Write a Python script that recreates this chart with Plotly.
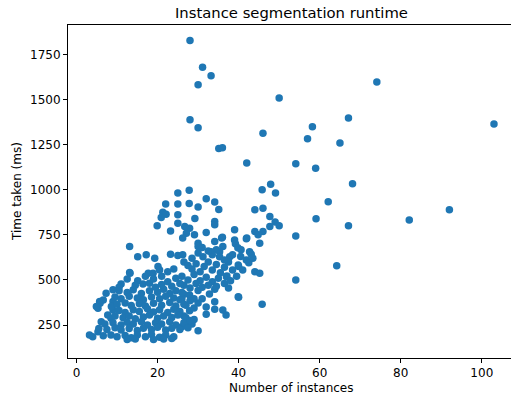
import plotly.graph_objects as go

# Outliers / sparse points (instances, ms)
sparse_x = [28.0, 31.1, 33.2, 30.0, 50.0, 28.0, 30.0, 67.1, 58.2, 57.0, 65.0, 46.0, 35.1, 36.0,
            42.0, 54.1, 59.0, 74.1, 103.0, 68.1, 47.9, 49.1, 62.1, 92.0, 82.1, 59.1, 67.1, 54.1,
            64.2, 54.1, 45.8, 40.0]
sparse_y = [1828, 1679, 1633, 1583, 1509, 1389, 1344, 1398, 1350, 1283, 1259, 1313, 1229, 1233,
            1148, 1144, 1120, 1598, 1365, 1033, 1031, 982, 933, 889, 833, 839, 800, 744,
            579, 500, 365, 404]

# Upper cluster
upper_x = [25.0, 25.0, 22.0, 21.3, 22.1, 20.9, 25.0, 25.0, 19.9, 23.2, 13.1, 15.1, 17.2, 19.3,
           23.2, 25.0, 27.8, 27.8, 30.0, 32.0, 34.1, 35.1, 29.2, 34.1, 34.1, 27.9, 27.1, 29.1,
           32.0, 30.0, 30.0, 26.2, 26.2, 36.0, 39.0, 39.0, 39.2, 39.8, 40.6, 41.9, 42.7, 43.1,
           44.0, 46.0, 45.8, 47.7, 49.0, 50.0, 47.7, 46.0, 44.0, 44.8, 45.2, 36.1, 35.3, 34.5,
           33.2, 33.5, 35.3, 31.2, 37.8, 26.7, 34.1, 35.8, 42.0]
upper_y = [982, 921, 921, 876, 865, 846, 861, 815, 800, 772, 685, 629, 639, 620,
           643, 635, 998, 924, 904, 950, 932, 891, 841, 824, 806, 787, 759, 750,
           763, 704, 685, 732, 639, 737, 778, 722, 700, 679, 667, 728, 657, 643,
           889, 898, 1000, 852, 821, 800, 796, 768, 768, 750, 704, 685, 657, 667,
           657, 639, 629, 629, 629, 796, 713, 732, 732]

# Middle band
mid_x = [44.0, 45.2, 40.0, 37.1, 41.9, 39.9, 37.0, 39.9, 36.9, 36.1, 34.1, 34.1, 32.0, 30.0,
         27.9, 30.0, 27.9, 30.0, 32.8, 34.1,
         26.5, 27.5, 28.5, 29.5, 30.5, 31.5, 32.5, 33.5, 34.5, 35.5, 36.5, 37.5, 38.5,
         26.0, 27.5, 29.0, 30.5, 32.0, 33.5, 35.0, 36.5, 38.0, 26.5, 28.0, 29.5, 31.0,
         32.5, 34.5, 37.5, 39.5, 41.0, 42.5, 43.5, 40.5, 38.5, 36.5, 28.5, 30.0, 32.5, 31.0,
         26.5, 26.0, 27.0, 26.5, 27.5, 29.0, 26.0, 28.5, 31.0, 32.0, 29.0]
mid_y = [546, 537, 574, 522, 611, 583, 518, 407, 306, 333, 337, 379, 309, 218,
         329, 372, 417, 441, 422, 448,
         600, 580, 560, 590, 545, 575, 600, 555, 585, 540, 570, 600, 555,
         520, 500, 530, 495, 515, 490, 510, 480, 495, 470, 455, 480, 460,
         470, 465, 455, 520, 555, 595, 620, 630, 640, 610, 620, 650, 660, 680,
         420, 395, 360, 300, 270, 280, 240, 255, 395, 350, 395]

# Dense lower-left cluster
low_x = [13.1, 11.0, 15.1, 16.4, 18.0, 7.3, 5.7, 5.3, 9.0, 9.0, 7.7, 8.5, 6.1, 3.2, 4.0,
         5.3, 6.6, 17.7, 18.9, 20.1, 13.2, 6.6, 5.8, 4.9, 8.6,
         10.5, 12.5, 14.0, 16.0, 18.0, 20.0, 21.5, 23.0, 24.5, 26.0,
         9.5, 11.0, 13.0, 15.0, 16.5, 18.5, 20.5, 22.0, 24.0, 25.5,
         10.0, 12.0, 13.5, 15.5, 17.0, 19.0, 21.0, 23.0, 24.5, 26.5, 28.0,
         10.5, 12.0, 14.0, 15.5, 17.5, 19.0, 20.5, 22.5, 24.0, 25.5, 29.0,
         9.5, 11.5, 13.0, 14.5, 16.5, 18.0, 20.0, 21.5, 23.5, 25.0, 27.0,
         7.0, 9.0, 11.0, 12.5, 14.0, 16.0, 17.5, 19.5, 21.0, 23.0, 24.5, 26.5, 28.0,
         5.5, 7.5, 9.5, 11.0, 13.0, 15.0, 16.5, 18.5, 20.0, 22.0, 23.5, 25.5, 27.5,
         8.5, 10.0, 12.0, 13.5, 15.0, 17.0, 18.5, 20.5, 22.0, 24.0,
         12.5, 14.5, 19.0, 21.5, 23.5,
         19.5, 21.0, 22.5, 23.5, 24.5, 21.0, 19.0, 22.5, 24.0, 25.5, 20.5, 17.0, 14.5,
         12.5, 10.5, 9.0]
low_y = [541, 478, 496, 478, 482, 426, 380, 343, 380, 333, 306, 287, 268, 194, 185,
         213, 191, 537, 537, 574, 537, 389, 370, 352, 352,
         440, 430, 445, 425, 440, 432, 448, 425, 440, 430,
         405, 395, 410, 400, 390, 405, 395, 410, 400, 390,
         365, 372, 358, 368, 355, 370, 360, 375, 355, 365, 385,
         330, 320, 335, 325, 340, 322, 335, 320, 338, 325, 345,
         300, 290, 300, 285, 295, 305, 288, 300, 292, 305, 290,
         255, 262, 250, 265, 255, 268, 250, 262, 255, 268, 250, 262, 275,
         230, 225, 235, 222, 230, 220, 232, 225, 238, 222, 232, 225, 235,
         195, 185, 192, 180, 195, 185, 198, 182, 195, 185,
         170, 172, 170, 172, 175,
         460, 475, 490, 465, 510, 520, 505, 545, 560, 480, 555, 520, 470,
         505, 460, 445]

x_vals = sparse_x + upper_x + mid_x + low_x
y_vals = sparse_y + upper_y + mid_y + low_y

x_ticks = [0, 20, 40, 60, 80, 100]
y_ticks = [250, 500, 750, 1000, 1250, 1500, 1750]

W, H = 511, 398
L, R, T, B = 68, 0, 25, 40
PW, PH = W - L - R, H - T - B

fig = go.Figure(go.Scatter(
    x=x_vals, y=y_vals, mode="markers",
    marker=dict(color="#1f77b4", size=7.5, line=dict(width=0)),
    hoverinfo="skip",
))

font = dict(family="DejaVu Sans", size=12, color="#000000")
axis_common = dict(
    showgrid=False, zeroline=False, showline=True, linecolor="#000000", linewidth=1,
    ticks="outside", ticklen=4, tickwidth=1, tickcolor="#000000",
    tickfont=font, automargin=False,
)
fig.update_layout(
    width=W, height=H,
    margin=dict(l=L, r=R, t=T, b=B, autoexpand=False),
    paper_bgcolor="white", plot_bgcolor="white",
    showlegend=False,
    xaxis=dict(range=[-2.1, 107.2], tickvals=x_ticks, mirror=True, **axis_common),
    yaxis=dict(range=[67, 1914], tickvals=y_ticks, **axis_common),
    annotations=[
        dict(text="Instance segmentation runtime", xref="paper", yref="paper",
             x=(291 - L) / PW, y=(H - B - 12) / PH, xanchor="center", yanchor="middle",
             showarrow=False, font=dict(family="DejaVu Sans", size=14.8, color="#000000")),
        dict(text="Number of instances", xref="paper", yref="paper",
             x=(291 - L) / PW, y=(H - B - 388) / PH, xanchor="center", yanchor="middle",
             showarrow=False, font=font),
        dict(text="Time taken (ms)", xref="paper", yref="paper", textangle=-90,
             x=(17 - L) / PW, y=(H - B - 192) / PH, xanchor="center", yanchor="middle",
             showarrow=False, font=font),
    ],
)
fig.write_html(
    "out.html",
    config={"displayModeBar": False},
    post_script="document.body.style.margin='0';document.body.style.overflow='hidden';",
)
